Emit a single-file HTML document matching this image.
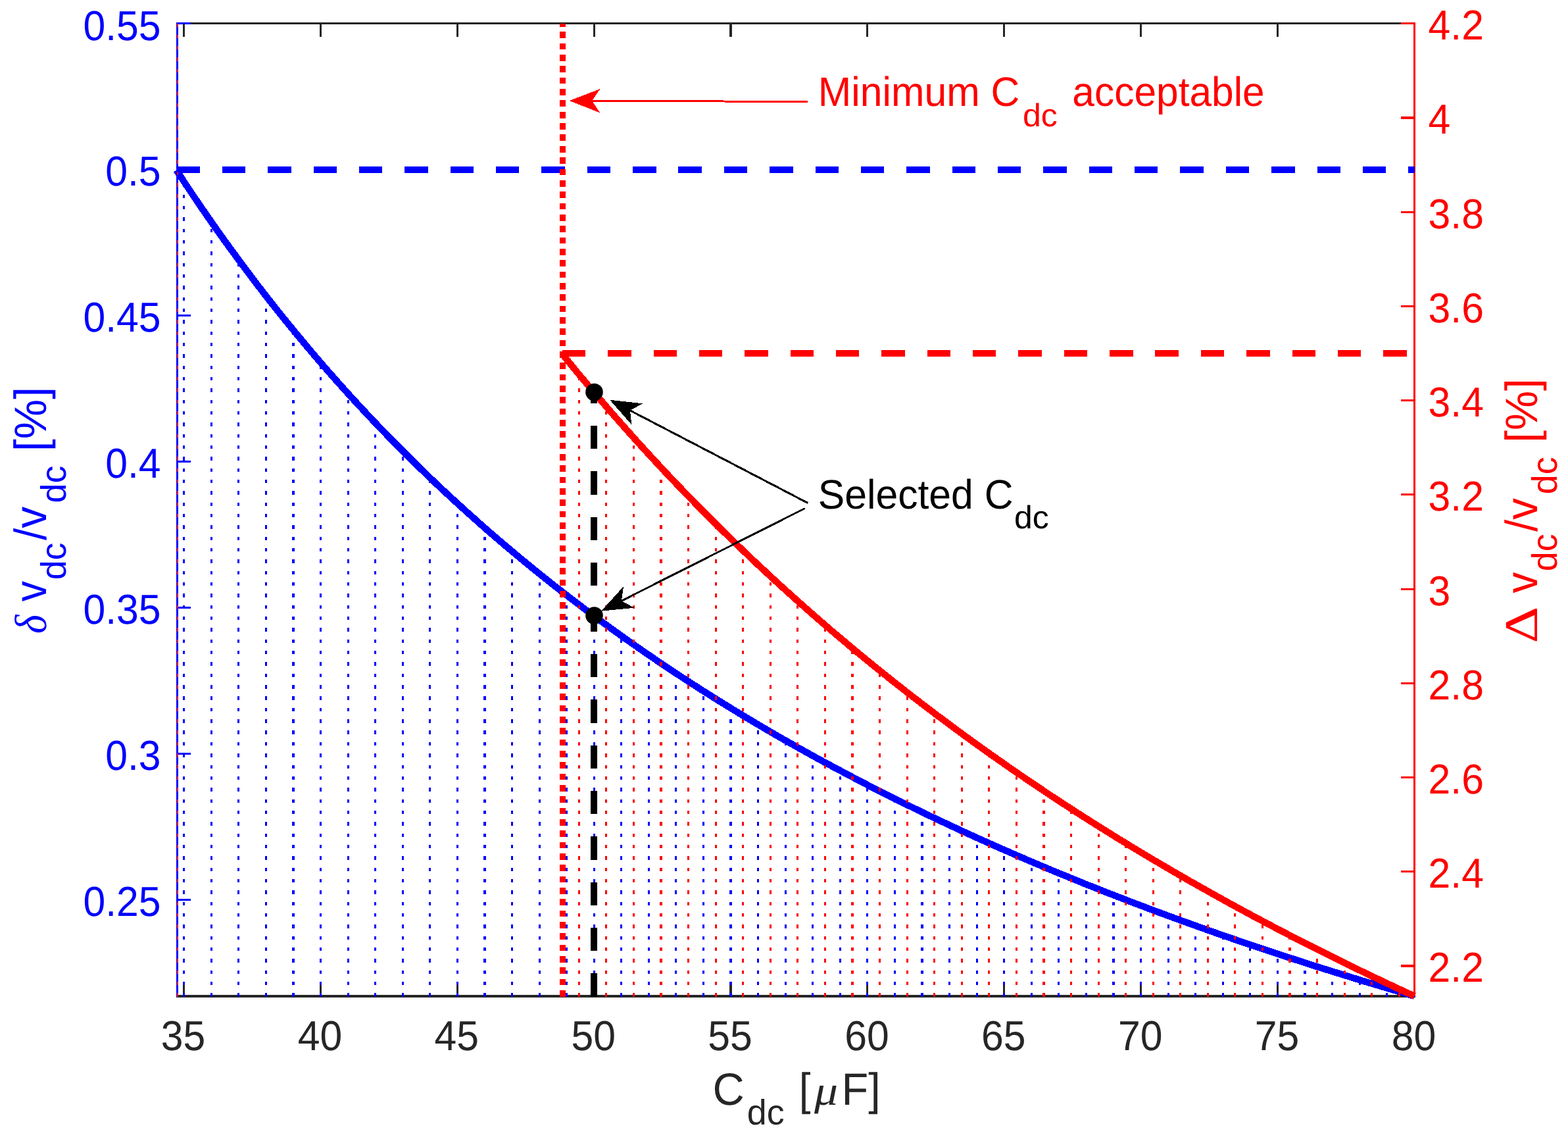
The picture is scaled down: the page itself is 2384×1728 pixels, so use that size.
<!DOCTYPE html>
<html lang="en"><head><meta charset="utf-8"><title>DC-link capacitance selection</title>
<style>html,body{margin:0;padding:0;background:#fff}body{width:2384px;height:1728px;overflow:hidden}svg{display:block}text{white-space:pre;font-kerning:none;text-rendering:geometricPrecision}</style>
</head><body>
<svg width="2384" height="1728" viewBox="0 0 2384 1728">
<rect x="0" y="0" width="2384" height="1728" fill="#ffffff"/>
<g id="axes" shape-rendering="crispEdges">
<path d="M268 34h1884v3h-1884zM268 1512h1884v4h-1884zM278 34h3v22h-3zM278 1493h3v22h-3zM486 34h3v22h-3zM486 1493h3v22h-3zM694 34h3v22h-3zM694 1493h3v22h-3zM902 34h3v22h-3zM902 1493h3v22h-3zM1109 34h4v22h-4zM1109 1493h4v22h-4zM1317 34h3v22h-3zM1317 1493h3v22h-3zM1525 34h3v22h-3zM1525 1493h3v22h-3zM1733 34h3v22h-3zM1733 1493h3v22h-3zM1941 34h3v22h-3zM1941 1493h3v22h-3z" fill="#262626"/>
<path d="M268 34h3v1481h-3zM268 1366h22v3h-22zM268 1144h22v3h-22zM268 922h22v3h-22zM268 700h22v3h-22zM268 478h22v3h-22zM268 256h22v4h-22zM268 34h22v3h-22z" fill="#0000ff"/>
<path d="M2149 34h3v1481h-3zM2130 1466h22v4h-22zM2130 1323h22v3h-22zM2130 1180h22v3h-22zM2130 1037h22v3h-22zM2130 894h22v3h-22zM2130 750h22v3h-22zM2130 607h22v3h-22zM2130 464h22v3h-22zM2130 321h22v3h-22zM2130 177h22v4h-22zM2130 34h22v3h-22z" fill="#ff0000"/>
</g>
<g id="left-data" shape-rendering="crispEdges" fill="none">
<path d="M279.5 1514.7V275.75M321.5 1514.7V336.9M362.5 1514.7V394.74M404.5 1514.7V449.53M487.5 1514.7V550.91M529.5 1514.7V597.89M570.5 1514.7V642.63M612.5 1514.7V685.29M653.5 1514.7V726.01M695.5 1514.7V764.92M778.5 1514.7V837.77M820.5 1514.7V871.92M861.5 1514.7V904.68M903.5 1514.7V936.13M944.5 1514.7V966.34M986.5 1514.7V995.39M1027.5 1514.7V1023.35M1069.5 1514.7V1050.27M1152.5 1514.7V1101.22M1194.5 1514.7V1125.36M1235.5 1514.7V1148.66M1277.5 1514.7V1171.17M1318.5 1514.7V1192.94M1360.5 1514.7V1213.99M1443.5 1514.7V1254.08M1485.5 1514.7V1273.19M1526.5 1514.7V1291.71M1568.5 1514.7V1309.67M1609.5 1514.7V1327.09M1651.5 1514.7V1344M1734.5 1514.7V1376.38M1776.5 1514.7V1391.88M1817.5 1514.7V1406.95M1859.5 1514.7V1421.61M1900.5 1514.7V1435.87M1942.5 1514.7V1449.75M2025.5 1514.7V1476.43M2067.5 1514.7V1489.26M2108.5 1514.7V1501.76M2150.5 1514.7V1513.95" stroke="#0000ff" stroke-width="3" stroke-dasharray="5.4 11.94"/>
<path d="M446 1514.7V501.52M737 1514.7V802.14M1111 1514.7V1076.21M1402 1514.7V1234.36M1693 1514.7V1360.42M1984 1514.7V1463.27" stroke="#0000ff" stroke-width="4" stroke-dasharray="5.4 11.94"/>
<path d="M268.5 258H2151" stroke="#0000ff" stroke-width="10" stroke-dasharray="35.4 33.96"/>
<path d="M903 1514.7V596" stroke="#000000" stroke-width="10" stroke-dasharray="35.4 33.96"/>
<polyline points="268.3,258.6 277.7,273 287.1,287.2 296.5,301.2 305.9,315 315.3,328.6 324.7,342.1 334.1,355.4 343.5,368.5 353,381.5 362.4,394.3 371.8,407 381.2,419.5 390.6,431.9 400,444.1 409.4,456.2 418.8,468.1 428.2,479.9 437.7,491.5 447.1,503 456.5,514.4 465.9,525.7 475.3,536.8 484.7,547.8 494.1,558.7 503.5,569.4 512.9,580.1 522.4,590.6 531.8,601 541.2,611.3 550.6,621.4 560,631.5 569.4,641.4 578.8,651.3 588.2,661 597.6,670.7 607.1,680.2 616.5,689.6 625.9,699 635.3,708.2 644.7,717.4 654.1,726.4 663.5,735.4 672.9,744.2 682.3,753 691.8,761.7 701.2,770.3 710.6,778.8 720,787.2 729.4,795.6 738.8,803.9 748.2,812 757.6,820.1 767,828.2 776.5,836.1 785.9,844 795.3,851.8 804.7,859.5 814.1,867.2 823.5,874.7 832.9,882.2 842.3,889.7 851.7,897 861.2,904.3 870.6,911.6 880,918.7 889.4,925.9 898.8,932.9 908.2,939.9 917.6,946.8 927,953.6 936.5,960.4 945.9,967.1 955.3,973.8 964.7,980.4 974.1,987 983.5,993.5 992.9,999.9 1002.3,1006.3 1011.7,1012.6 1021.2,1018.9 1030.6,1025.1 1040,1031.3 1049.4,1037.4 1058.8,1043.4 1068.2,1049.5 1077.6,1055.4 1087,1061.3 1096.4,1067.2 1105.9,1073 1115.3,1078.8 1124.7,1084.5 1134.1,1090.2 1143.5,1095.8 1152.9,1101.4 1162.3,1106.9 1171.7,1112.4 1181.1,1117.9 1190.6,1123.3 1200,1128.6 1209.4,1134 1218.8,1139.2 1228.2,1144.5 1237.6,1149.7 1247,1154.8 1256.4,1159.9 1265.8,1165 1275.3,1170 1284.7,1175 1294.1,1180 1303.5,1184.9 1312.9,1189.8 1322.3,1194.7 1331.7,1199.5 1341.1,1204.3 1350.5,1209 1360,1213.7 1369.4,1218.4 1378.8,1223 1388.2,1227.6 1397.6,1232.2 1407,1236.7 1416.4,1241.2 1425.8,1245.7 1435.2,1250.1 1444.7,1254.5 1454.1,1258.9 1463.5,1263.3 1472.9,1267.6 1482.3,1271.9 1491.7,1276.1 1501.1,1280.3 1510.5,1284.5 1519.9,1288.7 1529.4,1292.8 1538.8,1296.9 1548.2,1301 1557.6,1305.1 1567,1309.1 1576.4,1313.1 1585.8,1317 1595.2,1321 1604.6,1324.9 1614.1,1328.8 1623.5,1332.6 1632.9,1336.5 1642.3,1340.3 1651.7,1344.1 1661.1,1347.8 1670.5,1351.6 1679.9,1355.3 1689.3,1358.9 1698.8,1362.6 1708.2,1366.2 1717.6,1369.9 1727,1373.4 1736.4,1377 1745.8,1380.6 1755.2,1384.1 1764.6,1387.6 1774.1,1391.1 1783.5,1394.5 1792.9,1397.9 1802.3,1401.3 1811.7,1404.7 1821.1,1408.1 1830.5,1411.4 1839.9,1414.8 1849.3,1418.1 1858.8,1421.4 1868.2,1424.6 1877.6,1427.9 1887,1431.1 1896.4,1434.3 1905.8,1437.5 1915.2,1440.6 1924.6,1443.8 1934,1446.9 1943.5,1450 1952.9,1453.1 1962.3,1456.2 1971.7,1459.2 1981.1,1462.3 1990.5,1465.3 1999.9,1468.3 2009.3,1471.3 2018.7,1474.2 2028.2,1477.2 2037.6,1480.1 2047,1483 2056.4,1485.9 2065.8,1488.8 2075.2,1491.7 2084.6,1494.5 2094,1497.3 2103.4,1500.1 2112.9,1502.9 2122.3,1505.7 2131.7,1508.5 2141.1,1511.2 2150.5,1514" stroke="#0000ff" stroke-width="10.2" stroke-linejoin="round"/>
</g>
<g id="right-data" shape-rendering="crispEdges" fill="none">
<path d="M880.5 1514.7V568.94M921.5 1514.7V617.99M963.5 1514.7V665.13M1046.5 1514.7V754.13M1088.5 1514.7V796.17M1129.5 1514.7V836.7M1171.5 1514.7V875.79M1212.5 1514.7V913.53M1254.5 1514.7V949.97M1337.5 1514.7V1019.23M1379.5 1514.7V1052.17M1420.5 1514.7V1084.06M1462.5 1514.7V1114.94M1503.5 1514.7V1144.86M1545.5 1514.7V1173.87M1628.5 1514.7V1229.31M1670.5 1514.7V1255.81M1711.5 1514.7V1281.55M1753.5 1514.7V1306.56M1794.5 1514.7V1330.87M1836.5 1514.7V1354.51M1877.5 1514.7V1377.5M1919.5 1514.7V1399.88M2002.5 1514.7V1442.88M2044.5 1514.7V1463.54M2085.5 1514.7V1483.68M2127.5 1514.7V1503.31" stroke="#ff0000" stroke-width="3" stroke-dasharray="5.4 11.94"/>
<path d="M1005 1514.7V710.48M1296 1514.7V985.18M1587 1514.7V1202.01M1961 1514.7V1421.66" stroke="#ff0000" stroke-width="4" stroke-dasharray="5.4 11.94"/>
<path d="M270 1514.7V35.5" stroke="#ff0000" stroke-width="2" stroke-dasharray="5.4 11.94"/>
<path d="M855.5 1514.7V35.5" stroke="#ff0000" stroke-width="9" stroke-dasharray="9.7 7.64"/>
<path d="M854.8 537.06H2150.5" stroke="#ff0000" stroke-width="10" stroke-dasharray="35.4 33.96"/>
<polyline points="854.8,537.9 861.3,545.9 867.8,553.8 874.2,561.7 880.7,569.5 887.2,577.3 893.7,585 900.1,592.7 906.6,600.3 913.1,607.9 919.6,615.4 926.1,622.9 932.5,630.3 939,637.7 945.5,645 952,652.3 958.5,659.6 964.9,666.8 971.4,674 977.9,681.1 984.4,688.2 990.8,695.2 997.3,702.2 1003.8,709.2 1010.3,716.1 1016.8,723 1023.2,729.8 1029.7,736.6 1036.2,743.4 1042.7,750.1 1049.2,756.8 1055.6,763.4 1062.1,770 1068.6,776.6 1075.1,783.1 1081.5,789.6 1088,796.1 1094.5,802.5 1101,808.8 1107.5,815.2 1113.9,821.5 1120.4,827.8 1126.9,834 1133.4,840.2 1139.9,846.4 1146.3,852.5 1152.8,858.6 1159.3,864.6 1165.8,870.7 1172.2,876.7 1178.7,882.6 1185.2,888.6 1191.7,894.5 1198.2,900.3 1204.6,906.1 1211.1,912 1217.6,917.7 1224.1,923.5 1230.6,929.2 1237,934.8 1243.5,940.5 1250,946.1 1256.5,951.7 1262.9,957.3 1269.4,962.8 1275.9,968.3 1282.4,973.7 1288.9,979.2 1295.3,984.6 1301.8,990 1308.3,995.3 1314.8,1000.7 1321.3,1006 1327.7,1011.2 1334.2,1016.5 1340.7,1021.7 1347.2,1026.9 1353.6,1032.1 1360.1,1037.2 1366.6,1042.3 1373.1,1047.4 1379.6,1052.5 1386,1057.5 1392.5,1062.5 1399,1067.5 1405.5,1072.4 1412,1077.4 1418.4,1082.3 1424.9,1087.2 1431.4,1092 1437.9,1096.9 1444.3,1101.7 1450.8,1106.5 1457.3,1111.2 1463.8,1116 1470.3,1120.7 1476.7,1125.4 1483.2,1130.1 1489.7,1134.7 1496.2,1139.4 1502.7,1144 1509.1,1148.5 1515.6,1153.1 1522.1,1157.6 1528.6,1162.2 1535,1166.7 1541.5,1171.1 1548,1175.6 1554.5,1180 1561,1184.4 1567.4,1188.8 1573.9,1193.2 1580.4,1197.5 1586.9,1201.9 1593.3,1206.2 1599.8,1210.5 1606.3,1214.7 1612.8,1219 1619.3,1223.2 1625.7,1227.4 1632.2,1231.6 1638.7,1235.8 1645.2,1239.9 1651.7,1244.1 1658.1,1248.2 1664.6,1252.3 1671.1,1256.3 1677.6,1260.4 1684,1264.4 1690.5,1268.5 1697,1272.5 1703.5,1276.5 1710,1280.4 1716.4,1284.4 1722.9,1288.3 1729.4,1292.2 1735.9,1296.1 1742.4,1300 1748.8,1303.9 1755.3,1307.7 1761.8,1311.5 1768.3,1315.3 1774.7,1319.1 1781.2,1322.9 1787.7,1326.7 1794.2,1330.4 1800.7,1334.1 1807.1,1337.9 1813.6,1341.6 1820.1,1345.2 1826.6,1348.9 1833.1,1352.5 1839.5,1356.2 1846,1359.8 1852.5,1363.4 1859,1367 1865.4,1370.6 1871.9,1374.1 1878.4,1377.7 1884.9,1381.2 1891.4,1384.7 1897.8,1388.2 1904.3,1391.7 1910.8,1395.1 1917.3,1398.6 1923.8,1402 1930.2,1405.4 1936.7,1408.9 1943.2,1412.3 1949.7,1415.6 1956.1,1419 1962.6,1422.4 1969.1,1425.7 1975.6,1429 1982.1,1432.3 1988.5,1435.6 1995,1438.9 2001.5,1442.2 2008,1445.4 2014.5,1448.7 2020.9,1451.9 2027.4,1455.1 2033.9,1458.3 2040.4,1461.5 2046.8,1464.7 2053.3,1467.9 2059.8,1471 2066.3,1474.2 2072.8,1477.3 2079.2,1480.4 2085.7,1483.5 2092.2,1486.6 2098.7,1489.7 2105.2,1492.8 2111.6,1495.8 2118.1,1498.9 2124.6,1501.9 2131.1,1504.9 2137.5,1507.9 2144,1510.9 2150.5,1513.9" stroke="#ff0000" stroke-width="10.2" stroke-linejoin="round"/>
</g>
<circle cx="903.5" cy="596" r="13.3" fill="#000"/>
<circle cx="903.5" cy="935.5" r="13.3" fill="#000"/>
<g id="ticklabels">
<text transform="translate(244.6 60.5) scale(0.954 1)" font-family="'Liberation Sans', sans-serif" font-size="63.6" text-anchor="end" fill="#0000ff">0.55</text>
<text transform="translate(244.6 282.4) scale(0.954 1)" font-family="'Liberation Sans', sans-serif" font-size="63.6" text-anchor="end" fill="#0000ff">0.5</text>
<text transform="translate(244.6 504.3) scale(0.954 1)" font-family="'Liberation Sans', sans-serif" font-size="63.6" text-anchor="end" fill="#0000ff">0.45</text>
<text transform="translate(244.6 726.2) scale(0.954 1)" font-family="'Liberation Sans', sans-serif" font-size="63.6" text-anchor="end" fill="#0000ff">0.4</text>
<text transform="translate(244.6 948.1) scale(0.954 1)" font-family="'Liberation Sans', sans-serif" font-size="63.6" text-anchor="end" fill="#0000ff">0.35</text>
<text transform="translate(244.6 1170) scale(0.954 1)" font-family="'Liberation Sans', sans-serif" font-size="63.6" text-anchor="end" fill="#0000ff">0.3</text>
<text transform="translate(244.6 1391.9) scale(0.954 1)" font-family="'Liberation Sans', sans-serif" font-size="63.6" text-anchor="end" fill="#0000ff">0.25</text>
<text transform="translate(2171.6 1492.4) scale(0.954 1)" font-family="'Liberation Sans', sans-serif" font-size="63.6" text-anchor="start" fill="#ff0000">2.2</text>
<text transform="translate(2171.6 1349.18) scale(0.954 1)" font-family="'Liberation Sans', sans-serif" font-size="63.6" text-anchor="start" fill="#ff0000">2.4</text>
<text transform="translate(2171.6 1205.96) scale(0.954 1)" font-family="'Liberation Sans', sans-serif" font-size="63.6" text-anchor="start" fill="#ff0000">2.6</text>
<text transform="translate(2171.6 1062.73) scale(0.954 1)" font-family="'Liberation Sans', sans-serif" font-size="63.6" text-anchor="start" fill="#ff0000">2.8</text>
<text transform="translate(2171.6 919.51) scale(0.954 1)" font-family="'Liberation Sans', sans-serif" font-size="63.6" text-anchor="start" fill="#ff0000">3</text>
<text transform="translate(2171.6 776.29) scale(0.954 1)" font-family="'Liberation Sans', sans-serif" font-size="63.6" text-anchor="start" fill="#ff0000">3.2</text>
<text transform="translate(2171.6 633.07) scale(0.954 1)" font-family="'Liberation Sans', sans-serif" font-size="63.6" text-anchor="start" fill="#ff0000">3.4</text>
<text transform="translate(2171.6 489.85) scale(0.954 1)" font-family="'Liberation Sans', sans-serif" font-size="63.6" text-anchor="start" fill="#ff0000">3.6</text>
<text transform="translate(2171.6 346.62) scale(0.954 1)" font-family="'Liberation Sans', sans-serif" font-size="63.6" text-anchor="start" fill="#ff0000">3.8</text>
<text transform="translate(2171.6 203.4) scale(0.954 1)" font-family="'Liberation Sans', sans-serif" font-size="63.6" text-anchor="start" fill="#ff0000">4</text>
<text transform="translate(2171.6 60.18) scale(0.954 1)" font-family="'Liberation Sans', sans-serif" font-size="63.6" text-anchor="start" fill="#ff0000">4.2</text>
<text transform="translate(278.5 1596.4) scale(0.954 1)" font-family="'Liberation Sans', sans-serif" font-size="63.6" text-anchor="middle" fill="#262626">35</text>
<text transform="translate(486.39 1596.4) scale(0.954 1)" font-family="'Liberation Sans', sans-serif" font-size="63.6" text-anchor="middle" fill="#262626">40</text>
<text transform="translate(694.28 1596.4) scale(0.954 1)" font-family="'Liberation Sans', sans-serif" font-size="63.6" text-anchor="middle" fill="#262626">45</text>
<text transform="translate(902.17 1596.4) scale(0.954 1)" font-family="'Liberation Sans', sans-serif" font-size="63.6" text-anchor="middle" fill="#262626">50</text>
<text transform="translate(1110.06 1596.4) scale(0.954 1)" font-family="'Liberation Sans', sans-serif" font-size="63.6" text-anchor="middle" fill="#262626">55</text>
<text transform="translate(1317.94 1596.4) scale(0.954 1)" font-family="'Liberation Sans', sans-serif" font-size="63.6" text-anchor="middle" fill="#262626">60</text>
<text transform="translate(1525.83 1596.4) scale(0.954 1)" font-family="'Liberation Sans', sans-serif" font-size="63.6" text-anchor="middle" fill="#262626">65</text>
<text transform="translate(1733.72 1596.4) scale(0.954 1)" font-family="'Liberation Sans', sans-serif" font-size="63.6" text-anchor="middle" fill="#262626">70</text>
<text transform="translate(1941.61 1596.4) scale(0.954 1)" font-family="'Liberation Sans', sans-serif" font-size="63.6" text-anchor="middle" fill="#262626">75</text>
<text transform="translate(2149.5 1596.4) scale(0.954 1)" font-family="'Liberation Sans', sans-serif" font-size="63.6" text-anchor="middle" fill="#262626">80</text>
</g>
<g id="xlabel">
<text transform="translate(1083.41 1679) scale(0.9708 1)" font-family="'Liberation Sans', sans-serif" font-size="68.8" fill="#262626">C</text>
<text transform="translate(1135.74 1709.3) scale(0.9974 1)" font-family="'Liberation Sans', sans-serif" font-size="54" fill="#262626">dc</text>
<text transform="translate(1214.64 1679) scale(0.9289 1)" font-family="'Liberation Sans', sans-serif" font-size="68.8" fill="#262626">[</text>
<text transform="translate(1238.07 1679) scale(1.14 1)" font-family="'Liberation Serif', serif" font-style="italic" font-size="63" fill="#262626">μ</text>
<text transform="translate(1279.53 1679) scale(0.9685 1)" font-family="'Liberation Sans', sans-serif" font-size="68.8" fill="#262626">F]</text>
</g>
<g id="ylabel-left">
<text transform="translate(70.1 963) rotate(-90) scale(0.8934 1)" font-family="'Liberation Serif', serif" font-style="italic" font-size="68.6" fill="#0000ff">δ</text>
<text transform="translate(70.1 914.21) rotate(-90) scale(0.9107 1)" font-family="'Liberation Sans', sans-serif" font-size="68.8" fill="#0000ff">v</text>
<text transform="translate(100.2 881.25) rotate(-90) scale(0.9936 1)" font-family="'Liberation Sans', sans-serif" font-size="54" fill="#0000ff">dc</text>
<text transform="translate(70.1 821) rotate(-90) scale(0.9591 1)" font-family="'Liberation Sans', sans-serif" font-size="68.8" fill="#0000ff">/v</text>
<text transform="translate(100.2 764.47) rotate(-90) scale(0.9992 1)" font-family="'Liberation Sans', sans-serif" font-size="54" fill="#0000ff">dc</text>
<text transform="translate(70.1 686.04) rotate(-90) scale(0.9867 1)" font-family="'Liberation Sans', sans-serif" font-size="68.8" fill="#0000ff">[%]</text>
</g>
<g id="ylabel-right">
<text transform="translate(2337.1 977.5) rotate(-90) scale(1.2128 1)" font-family="'Liberation Serif', serif" font-size="71.5" fill="#ff0000">Δ</text>
<text transform="translate(2337.1 901.52) rotate(-90) scale(0.9284 1)" font-family="'Liberation Sans', sans-serif" font-size="68.8" fill="#ff0000">v</text>
<text transform="translate(2367.4 868.37) rotate(-90) scale(0.9992 1)" font-family="'Liberation Sans', sans-serif" font-size="54" fill="#ff0000">dc</text>
<text transform="translate(2337.1 807.9) rotate(-90) scale(0.9535 1)" font-family="'Liberation Sans', sans-serif" font-size="68.8" fill="#ff0000">/v</text>
<text transform="translate(2367.4 751.37) rotate(-90) scale(0.9992 1)" font-family="'Liberation Sans', sans-serif" font-size="54" fill="#ff0000">dc</text>
<text transform="translate(2337.1 672.82) rotate(-90) scale(0.9822 1)" font-family="'Liberation Sans', sans-serif" font-size="68.8" fill="#ff0000">[%]</text>
</g>
<g id="annotations">
<text transform="translate(1243.83 160.9) scale(0.9668 1)" font-family="'Liberation Sans', sans-serif" font-size="62.7" fill="#ff0000">Minimum C</text>
<text transform="translate(1554.9 191.8) scale(1.0227 1)" font-family="'Liberation Sans', sans-serif" font-size="49" fill="#ff0000">dc</text>
<text transform="translate(1630.33 160.9) scale(0.9643 1)" font-family="'Liberation Sans', sans-serif" font-size="62.7" fill="#ff0000">acceptable</text>
<text transform="translate(1243.74 772.7) scale(0.9679 1)" font-family="'Liberation Sans', sans-serif" font-size="62.7" fill="#000000">Selected C</text>
<text transform="translate(1542.1 803.2) scale(1.0186 1)" font-family="'Liberation Sans', sans-serif" font-size="49" fill="#000000">dc</text>
<line x1="1228" y1="154.5" x2="900" y2="153.23" stroke="#ff0000" stroke-width="3" shape-rendering="crispEdges"/>
<polygon points="865.5,153.1 912.57,135.08 900,153.23 912.43,171.48" fill="#ff0000" shape-rendering="crispEdges"/>
<line x1="1228.1" y1="764.4" x2="957.8" y2="623.73" stroke="#000000" stroke-width="3" shape-rendering="crispEdges"/>
<polygon points="927.2,607.8 977.29,613.35 957.8,623.73 960.49,645.64" fill="#000000" shape-rendering="crispEdges"/>
<line x1="1223.9" y1="772.5" x2="945" y2="913.16" stroke="#000000" stroke-width="3" shape-rendering="crispEdges"/>
<polygon points="914.2,928.7 947.97,891.28 945,913.16 964.36,923.78" fill="#000000" shape-rendering="crispEdges"/>
</g>
</svg></body></html>
